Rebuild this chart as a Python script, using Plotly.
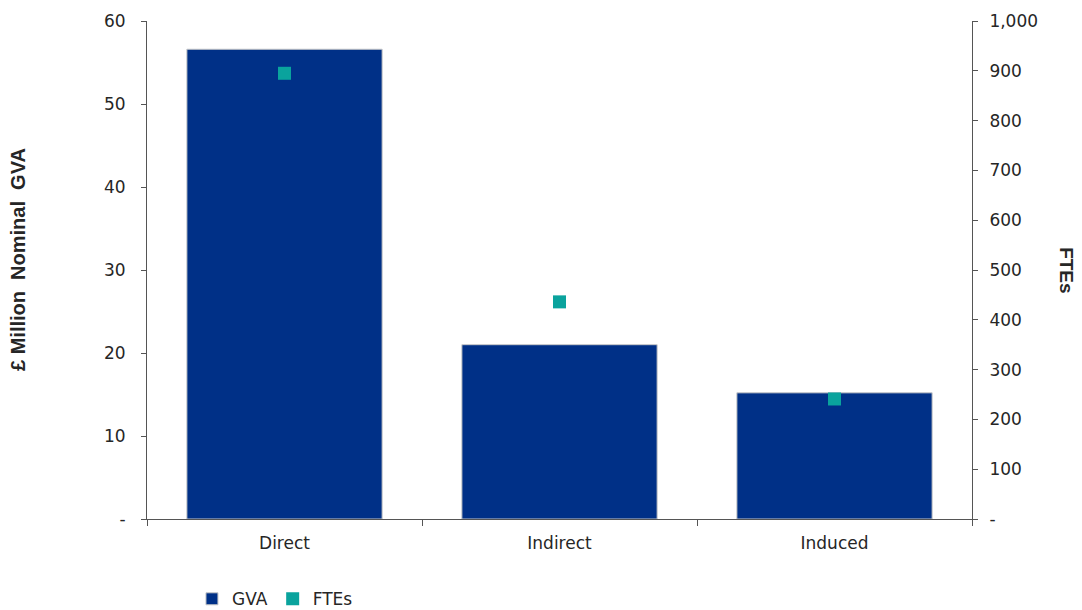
import plotly.graph_objects as go

categories = ["Direct", "Indirect", "Induced"]
gva = [56.6, 21.0, 15.2]
ftes = [895, 436, 241]
left_ticks = [0, 10, 20, 30, 40, 50, 60]
left_labels = ["-", "10", "20", "30", "40", "50", "60"]
right_ticks = [0, 100, 200, 300, 400, 500, 600, 700, 800, 900, 1000]
right_labels = ["-", "100", "200", "300", "400", "500", "600", "700", "800", "900", "1,000"]

BAR = "#003087"
TEAL = "#0aa39d"
FONT = "DejaVu Sans, Liberation Sans, Arial, sans-serif"
TFONT = "Liberation Sans, Arial, sans-serif"
TXT = "#262626"

fig = go.Figure()
fig.add_trace(go.Bar(x=categories, y=gva, name="GVA", marker=dict(color=BAR, line=dict(color="#c8c8c8", width=1)),
                     width=0.71, yaxis="y"))
fig.add_trace(go.Scatter(x=categories, y=ftes, name="FTEs", mode="markers",
                         marker=dict(symbol="square", size=13, color=TEAL), yaxis="y2"))

fig.update_layout(
    width=1074, height=602,
    margin=dict(l=139, r=110, t=13, b=91, autoexpand=False),
    paper_bgcolor="white", plot_bgcolor="white",
    font=dict(family=FONT, size=17, color=TXT),
    showlegend=True,
    legend=dict(orientation="h", x=0.0545, y=-0.125, xanchor="left", yanchor="top",
                font=dict(size=17, color=TXT), itemwidth=30, tracegroupgap=0),
    xaxis=dict(type="category", showline=True, linecolor="#555555", linewidth=1,
               ticks="outside", tickson="boundaries", ticklen=6, tickcolor="#555555",
               showgrid=False, tickfont=dict(size=17), ticklabelstandoff=9),
    yaxis=dict(range=[0, 60], tickvals=left_ticks, ticktext=left_labels, showline=True,
               linecolor="#555555", linewidth=1, ticks="outside", ticklen=5, tickcolor="#555555",
               showgrid=False, zeroline=False, tickfont=dict(size=17), automargin=False,
               ticklabelstandoff=12),
    yaxis2=dict(range=[0, 1000], tickvals=right_ticks, ticktext=right_labels, overlaying="y", side="right",
                showline=True, linecolor="#555555", linewidth=1, ticks="outside", ticklen=5,
                tickcolor="#555555", showgrid=False, zeroline=False, tickfont=dict(size=17), automargin=False,
                ticklabelstandoff=8),
    annotations=[
        dict(text="<b>£ Million  Nominal  GVA</b>", textangle=-90, xref="paper", yref="paper",
             x=-0.157, y=0.521, showarrow=False, font=dict(family=TFONT, size=20, color=TXT), xanchor="center"),
        dict(text="<b>FTEs</b>", textangle=90, xref="paper", yref="paper",
             x=1.115, y=0.5, showarrow=False, font=dict(family=TFONT, size=19, color=TXT), xanchor="center"),
    ],
)

fig.write_html("out.html")
